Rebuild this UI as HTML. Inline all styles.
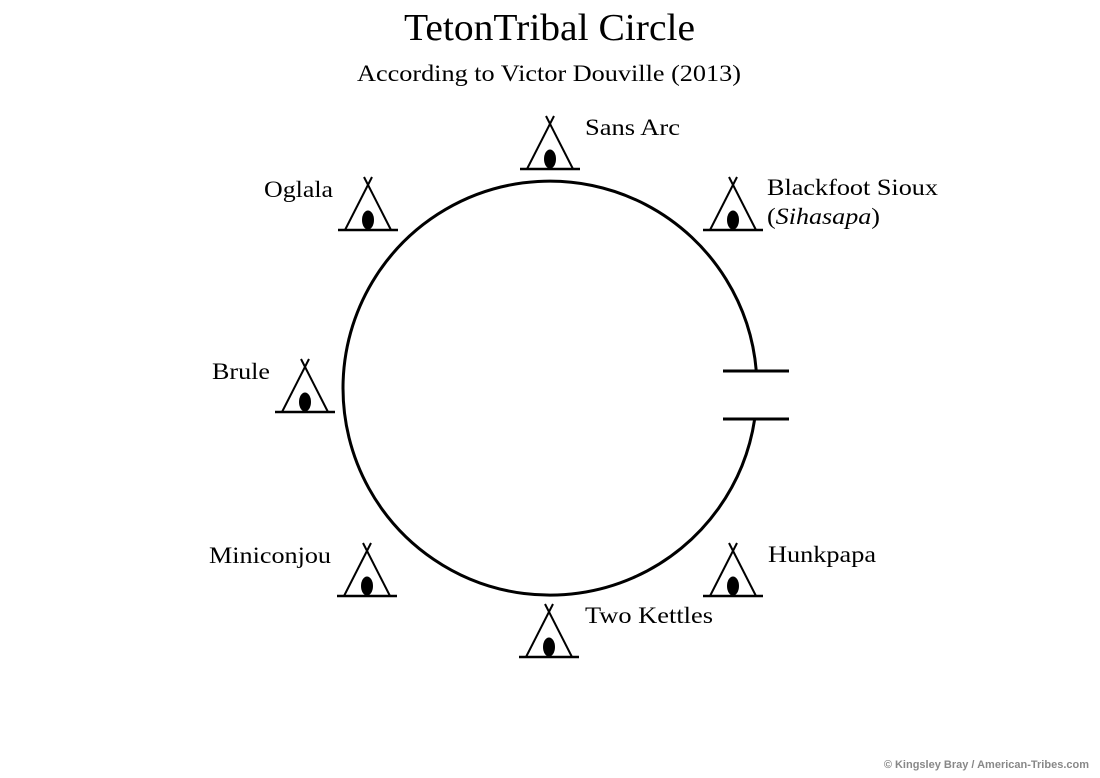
<!DOCTYPE html>
<html><head><meta charset="utf-8"><style>
html,body{margin:0;padding:0;background:#fff;}
svg{display:block;}
text{font-family:"Liberation Serif",serif;fill:#000;}
</style></head><body>
<svg width="1100" height="778" viewBox="0 0 1100 778">
<defs>
<g id="t">
<line x1="-30" y1="0" x2="30" y2="0" stroke="#000" stroke-width="2.5"/>
<line x1="-23" y1="0" x2="4" y2="-53" stroke="#000" stroke-width="2"/>
<line x1="23" y1="0" x2="-4" y2="-53" stroke="#000" stroke-width="2"/>
<ellipse cx="0" cy="-10" rx="6" ry="9.5" fill="#000"/>
</g>
</defs>
<text x="404" y="40" font-size="38" textLength="291" lengthAdjust="spacingAndGlyphs">TetonTribal Circle</text>
<text x="357" y="81" font-size="23" textLength="384" lengthAdjust="spacingAndGlyphs">According to Victor Douville (2013)</text>
<path d="M756.3,371 A207,207 0 1 0 754.7,419" fill="none" stroke="#000" stroke-width="3"/>
<line x1="723" y1="371" x2="789" y2="371" stroke="#000" stroke-width="3"/>
<line x1="723" y1="419" x2="789" y2="419" stroke="#000" stroke-width="3"/>
<use href="#t" x="550" y="169"/>
<use href="#t" x="368" y="230"/>
<use href="#t" x="733" y="230"/>
<use href="#t" x="305" y="412"/>
<use href="#t" x="367" y="596"/>
<use href="#t" x="549" y="657"/>
<use href="#t" x="733" y="596"/>
<text x="585" y="135" font-size="23" textLength="95" lengthAdjust="spacingAndGlyphs">Sans Arc</text>
<text x="264" y="197" font-size="23" textLength="69" lengthAdjust="spacingAndGlyphs">Oglala</text>
<text x="767" y="195" font-size="23" textLength="171" lengthAdjust="spacingAndGlyphs">Blackfoot Sioux</text>
<text x="767" y="224" font-size="23" textLength="113" lengthAdjust="spacingAndGlyphs">(<tspan font-style="italic">Sihasapa</tspan>)</text>
<text x="212" y="379" font-size="23" textLength="58" lengthAdjust="spacingAndGlyphs">Brule</text>
<text x="209" y="563" font-size="23" textLength="122" lengthAdjust="spacingAndGlyphs">Miniconjou</text>
<text x="768" y="562" font-size="23" textLength="108" lengthAdjust="spacingAndGlyphs">Hunkpapa</text>
<text x="585" y="623" font-size="23" textLength="128" lengthAdjust="spacingAndGlyphs">Two Kettles</text>
<text x="1089" y="768" font-size="11" font-weight="bold" text-anchor="end" style="font-family:'Liberation Sans',sans-serif;fill:#888">© Kingsley Bray / American-Tribes.com</text>
</svg>
</body></html>
